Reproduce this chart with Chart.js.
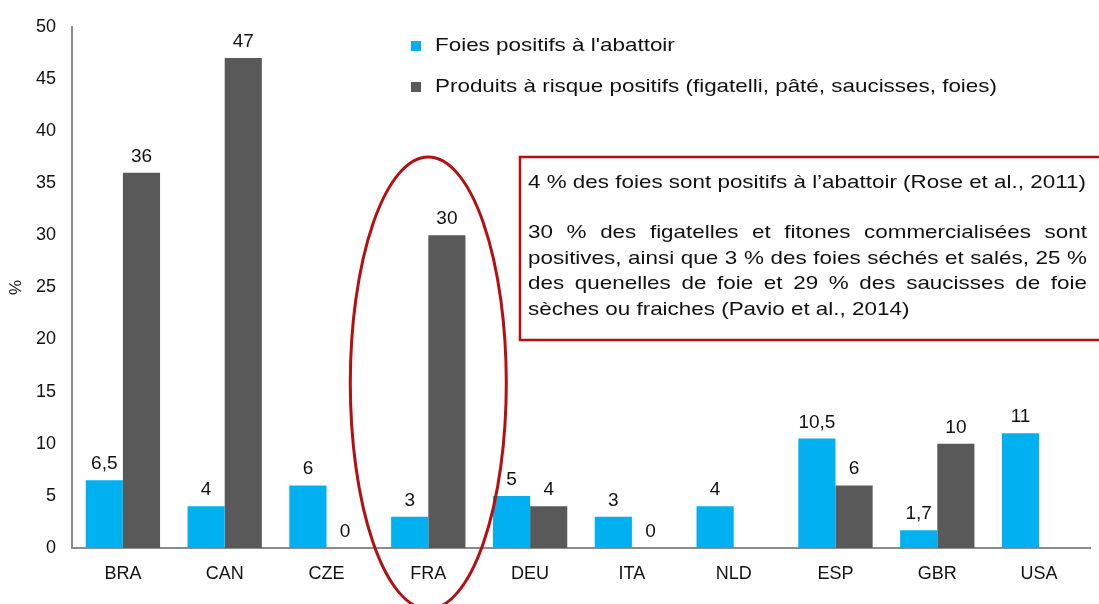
<!DOCTYPE html>
<html>
<head>
<meta charset="utf-8">
<script src="https://cdn.jsdelivr.net/npm/chart.js@4.4.1/dist/chart.umd.min.js"></script>
<style>
    html, body { margin: 0; padding: 0; background: #fff; }
    #wrap { width: 1099px; height: 604px; position: relative; }
</style>
</head>
<body>
<div id="wrap"><canvas id="HevChart"></canvas></div>
<script>
const countries = ["BRA", "CAN", "CZE", "FRA", "DEU", "ITA", "NLD", "ESP", "GBR", "USA"];
const foiesAbattoir = [6.5, 4, 6, 3, 5, 3, 4, 10.5, 1.7, 11];
const produitsRisque = [36, 47, 0, 30, 4, 0, null, 6, 10, null];
const yTicks = [0, 5, 10, 15, 20, 25, 30, 35, 40, 45, 50];

const FONT = "'Liberation Sans', Arial, sans-serif";
const CYAN = "#00B0F0";
const GREY = "#595959";
const RED = "#B50F12";
const STRETCH = 1.18; // legend & note text is set a little wide

// note box text, justified lines flagged true
const noteLines = [
    ["4 % des foies sont positifs à l’abattoir (Rose et al., 2011)", false],
    ["", false],
    ["30 % des figatelles et fitones commercialisées sont", true],
    ["positives, ainsi que 3 % des foies séchés et salés, 25 %", true],
    ["des quenelles de foie et 29 % des saucisses de foie", true],
    ["sèches ou fraiches (Pavio et al., 2014)", false],
];

function fmt(v) {
    return String(v).replace(".", ",");
}

// draws text stretched horizontally, optionally justified to a width
function wideText(ctx, text, x, y, justifyWidth) {
    ctx.save();
    ctx.translate(x, y);
    ctx.scale(STRETCH, 1);
    if (!justifyWidth) {
        ctx.fillText(text, 0, 0);
    } else {
        const avail = justifyWidth / STRETCH;
        const words = text.split(" ");
        const wordsW = words.reduce((s, w) => s + ctx.measureText(w).width, 0);
        const gap = (avail - wordsW) / (words.length - 1);
        let px = 0;
        words.forEach((w) => {
            ctx.fillText(w, px, 0);
            px += ctx.measureText(w).width + gap;
        });
    }
    ctx.restore();
}

// value labels above each bar
const barLabels = {
    id: "barLabels",
    afterDatasetsDraw(chart) {
        const ctx = chart.ctx;
        ctx.save();
        ctx.font = "19px " + FONT;
        ctx.fillStyle = "#111";
        ctx.textAlign = "center";
        ctx.textBaseline = "alphabetic";
        chart.data.datasets.forEach((ds, di) => {
            const meta = chart.getDatasetMeta(di);
            meta.data.forEach((bar, i) => {
                const v = ds.data[i];
                if (v === null || v === undefined) return;
                ctx.fillText(fmt(v), bar.x, bar.y - 11);
            });
        });
        ctx.restore();
    },
};

// legend, FRA ellipse and note box
const extras = {
    id: "extras",
    afterDraw(chart) {
        const ctx = chart.ctx;
        const x = chart.scales.x;
        ctx.save();

        // legend
        ctx.font = "19px " + FONT;
        ctx.textBaseline = "middle";
        ctx.textAlign = "left";
        chart.data.datasets.forEach((ds, i) => {
            const ly = 46 + i * 41;
            ctx.fillStyle = ds.backgroundColor;
            ctx.fillRect(411, ly - 5, 10, 10);
            ctx.fillStyle = "#111";
            wideText(ctx, ds.label, 435, ly);
        });

        // ellipse around FRA
        const cx = x.getPixelForValue(countries.indexOf("FRA"));
        ctx.strokeStyle = RED;
        ctx.lineWidth = 3;
        ctx.beginPath();
        ctx.ellipse(cx, 383, 78, 226, 0, 0, Math.PI * 2);
        ctx.stroke();

        // note box
        ctx.fillStyle = "#fff";
        ctx.fillRect(520, 157, 600, 183);
        ctx.lineWidth = 2.5;
        ctx.strokeRect(520, 157, 600, 183);

        ctx.fillStyle = "#111";
        ctx.font = "19px " + FONT;
        const left = 528, right = 1087;
        noteLines.forEach(([text, justify], i) => {
            const ty = 183 + i * 25.8 + (i >= 2 ? -2 : 0);
            if (!text) return;
            wideText(ctx, text, left, ty, justify ? right - left : 0);
        });

        ctx.restore();
    },
};

function HevChart() {
    const ctx = document.getElementById("HevChart");

    new Chart(ctx, {
        type: "bar",
        data: {
            labels: countries,
            datasets: [
                {
                    label: "Foies positifs à l'abattoir",
                    data: foiesAbattoir,
                    backgroundColor: CYAN,
                    borderWidth: 0,
                },
                {
                    label: "Produits à risque positifs (figatelli, pâté, saucisses, foies)",
                    data: produitsRisque,
                    backgroundColor: GREY,
                    borderWidth: 0,
                },
            ],
        },
        options: {
            responsive: true,
            maintainAspectRatio: false,
            animation: false,
            datasets: {
                bar: {
                    barPercentage: 1,
                    categoryPercentage: 0.73,
                },
            },
            layout: {
                padding: { top: 19, right: 9, left: 0, bottom: 0 },
            },
            plugins: {
                legend: { display: false },
                tooltip: { enabled: false },
            },
            scales: {
                x: {
                    grid: {
                        display: false,
                        drawTicks: false,
                    },
                    border: { color: "#8c8c8c", width: 2 },
                    ticks: {
                        color: "#111",
                        font: { family: FONT, size: 18 },
                        padding: 15,
                    },
                    afterFit(scale) {
                        scale.height = 56;
                    },
                },
                y: {
                    min: 0,
                    max: 50,
                    afterBuildTicks(scale) {
                        scale.ticks = yTicks.map((v) => ({ value: v }));
                    },
                    grid: {
                        display: false,
                        drawTicks: false,
                    },
                    border: { color: "#8c8c8c", width: 2 },
                    ticks: {
                        color: "#111",
                        font: { family: FONT, size: 18 },
                        padding: 16,
                    },
                    title: {
                        display: true,
                        text: "%",
                        color: "#111",
                        font: { family: FONT, size: 17 },
                        padding: { top: 6, bottom: 0 },
                    },
                    afterFit(scale) {
                        scale.width = 72;
                    },
                },
            },
        },
        plugins: [barLabels, extras],
    });
}

HevChart();
</script>
</body>
</html>
